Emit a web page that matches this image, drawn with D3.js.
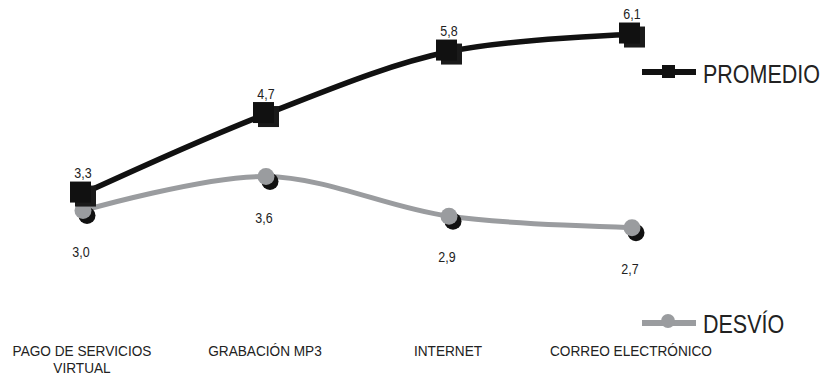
<!DOCTYPE html>
<html><head><meta charset="utf-8">
<script src="https://cdn.jsdelivr.net/npm/d3@7"></script>
<style>body{margin:0;background:#fff}svg{display:block}text{font-family:"Liberation Sans",Arial,sans-serif}</style>
</head><body><svg id="c" width="822" height="375"></svg>
<script>
const categories = ["PAGO DE SERVICIOS VIRTUAL", "GRABACIÓN MP3", "INTERNET", "CORREO ELECTRÓNICO"];
const categoryLines = [["PAGO DE SERVICIOS", "VIRTUAL"], ["GRABACIÓN MP3"], ["INTERNET"], ["CORREO ELECTRÓNICO"]];
const promedio = [3.3, 4.7, 5.8, 6.1];
const desvio = [3.0, 3.6, 2.9, 2.7];
const seriesNames = ["PROMEDIO", "DESVÍO"];

const svg = d3.select("#c");
const x = d3.scalePoint().domain(categories).range([83, 632]);
const y = d3.scaleLinear().domain([0, 7]).range([381, 381 - 7 * 56.8]);
const fmt = v => d3.format(".1f")(v).replace(".", ",");
function stext(g, tx, ty, str, size, anchor, sx) {
  g.append("text").attr("transform", `translate(${tx},${ty}) scale(${sx || 0.86},1)`)
    .attr("text-anchor", anchor).attr("font-size", size).attr("fill", "#222").text(str);
}
const GRAY = "#9a9c9f";
const line = d3.line().x((d, i) => x(categories[i])).y(d => y(d)).curve(d3.curveCatmullRom.alpha(0.5));

// value labels (drawn under markers, as in the reference)
promedio.forEach((v, i) => stext(svg, x(categories[i]), y(v) - 15.5, fmt(v), 14.5, "middle"));
desvio.forEach((v, i) => stext(svg, x(categories[i]) - 2, y(v) + 46, fmt(v), 14.5, "middle"));

// DESVIO line
svg.append("path").attr("d", line(desvio)).attr("fill", "none").attr("stroke", GRAY).attr("stroke-width", 5);
// PROMEDIO line
svg.append("path").attr("d", line(promedio)).attr("fill", "none").attr("stroke", "#111").attr("stroke-width", 5.5);

// DESVIO markers
desvio.forEach((v, i) => {
  const cx = x(categories[i]), cy = y(v);
  svg.append("circle").attr("cx", cx + 4).attr("cy", cy + 5).attr("r", 8.5).attr("fill", "#111");
  svg.append("circle").attr("cx", cx).attr("cy", cy).attr("r", 8.5).attr("fill", GRAY);
});
// PROMEDIO markers
promedio.forEach((v, i) => {
  const cx = x(categories[i]), cy = y(v);
  svg.append("rect").attr("x", cx - 8).attr("y", cy - 8).attr("width", 21).attr("height", 21).attr("fill", "#1a1a1a");
  svg.append("rect").attr("x", cx - 13).attr("y", cy - 12).attr("width", 21).attr("height", 21).attr("fill", "#111");
});

// category labels
categoryLines.forEach((lines, i) => {
  lines.forEach((t, j) => stext(svg, x(categories[i]) - 1, 356 + j * 17, t, 15.5, "middle", 0.88));
});

// legend
const lg = svg.append("g");
lg.append("line").attr("x1", 642).attr("x2", 696).attr("y1", 72).attr("y2", 72).attr("stroke", "#111").attr("stroke-width", 6);
lg.append("rect").attr("x", 662).attr("y", 65).attr("width", 13).attr("height", 13).attr("fill", "#111");
stext(lg, 703, 83, seriesNames[0], 25, "start");
lg.append("line").attr("x1", 642).attr("x2", 696).attr("y1", 323).attr("y2", 323).attr("stroke", GRAY).attr("stroke-width", 6);
lg.append("circle").attr("cx", 668).attr("cy", 321).attr("r", 7).attr("fill", GRAY);
stext(lg, 703, 333, seriesNames[1], 25, "start");
</script></body></html>
